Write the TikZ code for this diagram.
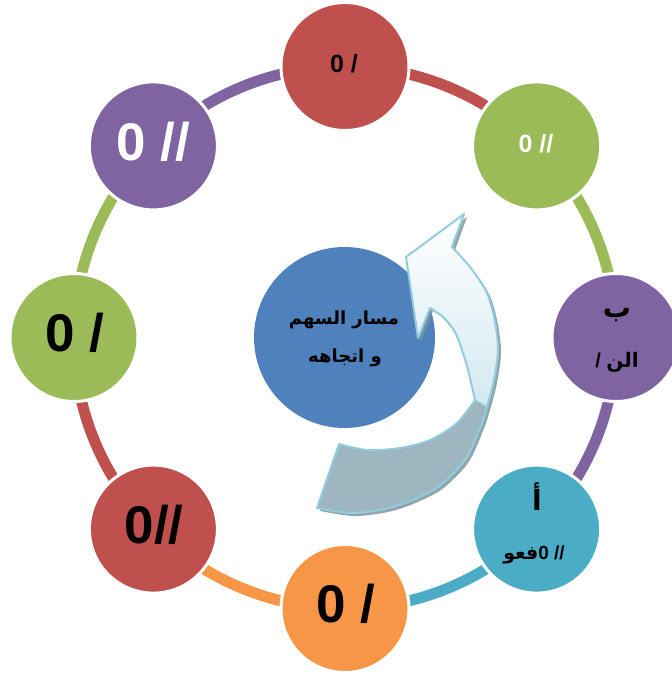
\documentclass[tikz,border=0pt]{standalone}
\usepackage{fontspec}
\setmainfont{Liberation Sans}
\newfontfamily\arabicfont[Script=Arabic]{DejaVu Sans}
\TeXXeTstate=1
\definecolor{cRed}{HTML}{C0504D}
\definecolor{cGreen}{HTML}{9BBB59}
\definecolor{cPurple}{HTML}{8064A2}
\definecolor{cTeal}{HTML}{4BACC6}
\definecolor{cOrange}{HTML}{F79646}
\definecolor{cBlue}{HTML}{4F81BD}
\definecolor{arrLine}{HTML}{93CDDD}
\definecolor{arrLow}{HTML}{9DB6BF}
\definecolor{arrHigh}{HTML}{D3E9F1}
\definecolor{arrShadow}{HTML}{7E969E}
\tikzset{
  ringarc/.style={line width=11pt},
  bubble/.style={circle, minimum size=128pt, inner sep=0pt, draw=white, line width=3pt},
  smalltxt/.style={font=\fontsize{25}{30}\selectfont\bfseries, inner sep=0pt},
  bigtxt/.style={font=\fontsize{53}{60}\selectfont\bfseries, inner sep=0pt},
  artxt/.style={inner sep=0pt, align=center},
}
\begin{document}
\begin{tikzpicture}[x=1pt,y=-1pt]
\useasboundingbox (0,0) rectangle (672,675);
\coordinate (C) at (345,337.5);
% ring arcs
\foreach \a/\col in {-90/cRed,-45/cGreen,0/cPurple,45/cTeal,90/cOrange,135/cRed,180/cGreen,225/cPurple}
  \draw[ringarc, draw=\col] (C) ++(\a:271) arc[start angle=\a, end angle=\a+45, radius=271];
% outer bubbles
\node[bubble, fill=cRed]    (c1) at (345,66.5) {};
\node[bubble, fill=cGreen]  (c2) at (536.6,145.9) {};
\node[bubble, fill=cPurple] (c3) at (616,337.5) {};
\node[bubble, fill=cTeal]   (c4) at (536.6,529.1) {};
\node[bubble, fill=cOrange] (c5) at (345,608.5) {};
\node[bubble, fill=cRed]    (c6) at (153.4,529.1) {};
\node[bubble, fill=cGreen]  (c7) at (74,337.5) {};
\node[bubble, fill=cPurple] (c8) at (153.4,145.9) {};
% centre circle
\node[circle, fill=cBlue, minimum size=181pt, inner sep=0pt] (cc) at (344.5,337.5) {};
% arrow shadow
\begin{scope}[shift={(3,3)}]
\fill[arrShadow, opacity=0.85] (464,214) -- (452,247)
  -- plot[smooth] coordinates {(452,247) (470,267) (487,293) (495,322) (498,350) (494,380) (487,407) (480,428) (465,460) (438,487) (405,503) (380,510) (350,513) (317,508)}
  -- (339,444)
  -- plot[smooth] coordinates {(339,444) (367,450) (400,448) (430,440) (457,423) (475,400)}
  -- plot[smooth] coordinates {(475,400) (468,370) (462,350) (455,332) (443,317) (430,308)}
  -- (418,338) -- (406,257) -- cycle;
\end{scope}
% arrow body (lower face)
\fill[arrLow] (464,214) -- (452,247)
  -- plot[smooth] coordinates {(452,247) (470,267) (487,293) (495,322) (498,350) (494,380) (487,407) (480,428) (465,460) (438,487) (405,503) (380,510) (350,513) (317,508)}
  -- (339,444)
  -- plot[smooth] coordinates {(339,444) (367,450) (400,448) (430,440) (457,423) (475,400)}
  -- plot[smooth] coordinates {(475,400) (468,370) (462,350) (455,332) (443,317) (430,308)}
  -- (418,338) -- (406,257) -- cycle;
% upper face
\shade[top color=white, bottom color=arrHigh] (464,214) -- (452,247)
  -- plot[smooth] coordinates {(452,247) (470,267) (487,293) (495,322) (498,350) (494,380) (487,407)}
  -- (475,400)
  -- plot[smooth] coordinates {(475,400) (468,370) (462,350) (455,332) (443,317) (430,308)}
  -- (418,338) -- (406,257) -- cycle;
% outlines
\draw[arrLine, line width=2pt, line join=round] (464,214) -- (452,247)
  -- plot[smooth] coordinates {(452,247) (470,267) (487,293) (495,322) (498,350) (494,380) (487,407) (480,428) (465,460) (438,487) (405,503) (380,510) (350,513) (317,508)}
  -- (339,444)
  -- plot[smooth] coordinates {(339,444) (367,450) (400,448) (430,440) (457,423) (475,400)}
  -- plot[smooth] coordinates {(475,400) (468,370) (462,350) (455,332) (443,317) (430,308)}
  -- (418,338) -- (406,257) -- cycle;
\draw[arrLine, line width=1.5pt] (475,400) -- (487,407);
% texts
\node[smalltxt] (t1) at (344,64) {0 /};
\node[smalltxt, white] (t2) at (536,144) {0 //};
\node[artxt, font=\arabicfont\bfseries\fontsize{28}{32}\selectfont] (t3a) at (617,315) {\beginR ب\endR};
\node[artxt, font=\bfseries\fontsize{20}{24}\selectfont] (t3b) at (617,362) {/ {\arabicfont\beginR الن\endR}};
\node[artxt, font=\arabicfont\bfseries\fontsize{28}{32}\selectfont] (t4a) at (537,497) {\beginR أ\endR};
\node[artxt, font=\bfseries\fontsize{19}{24}\selectfont] (t4b) at (534,555) {{\arabicfont\beginR فعو\endR}0 //};
\node[bigtxt] (t5) at (346,604) {0 /};
\node[bigtxt] (t6) at (154,525) {0//};
\node[bigtxt] (t7) at (75,333) {0 /};
\node[bigtxt, white] (t8) at (153,142) {0 //};
\node[artxt, font=\arabicfont\bfseries\fontsize{18}{24}\selectfont] (ct1) at (344,320) {\beginR مسار السهم\endR};
\node[artxt, font=\arabicfont\bfseries\fontsize{18}{24}\selectfont] (ct2) at (345,358) {\beginR و اتجاهه\endR};
\end{tikzpicture}
\end{document}
